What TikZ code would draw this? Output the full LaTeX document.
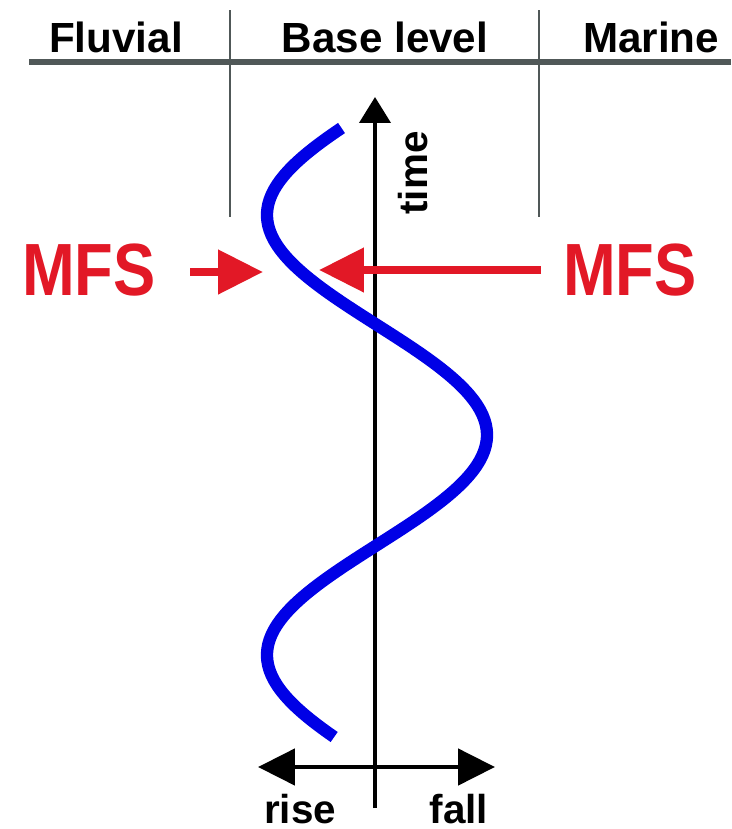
\documentclass[tikz,border=0pt]{standalone}
\usepackage{fontspec}
\setmainfont{Liberation Sans}
\usetikzlibrary{arrows.meta}
\definecolor{mfsred}{RGB}{226,24,38}
\definecolor{curveblue}{RGB}{0,0,230}
\definecolor{rulegray}{RGB}{80,88,88}
\tikzstyle{header} = [anchor=base, inner sep=0pt, font=\bfseries\fontsize{24}{28}\selectfont]
\tikzstyle{axislabel} = [inner sep=0pt, font=\bfseries\fontsize{23}{28}\selectfont]
\tikzstyle{mfs} = [anchor=base, inner sep=0pt, text=mfsred, yscale=1.17, font=\bfseries\fontsize{36}{40}\selectfont]
\tikzstyle{hrule} = [line width=3pt, draw=rulegray]
\tikzstyle{divider} = [line width=1.5pt, draw=rulegray]
\tikzstyle{timeaxis} = [line width=2.3pt, -{Triangle[length=0.52cm, width=0.62cm]}]
\tikzstyle{rangearrow} = [line width=2.8pt, {Triangle[length=0.74cm, width=0.72cm]}-{Triangle[length=0.74cm, width=0.72cm]}]
\tikzstyle{mfsarrow} = [line width=4.5pt, draw=mfsred, fill=mfsred, -{Triangle[length=0.9cm, width=0.86cm]}]
\tikzstyle{sealevel} = [line width=7pt, draw=curveblue]

\begin{document}
\begin{tikzpicture}[x=0.02cm, y=-0.02cm]
\useasboundingbox (0,0) rectangle (731,829);

\node [header] (fluvial) at (116,52) {Fluvial};
\node [header] (baselevel) at (385,52) {Base level};
\node [header] (marine) at (651,52) {Marine};

\coordinate (rulel) at (29,62);
\coordinate (ruler) at (731,62);
\coordinate (div1t) at (230,10);
\coordinate (div1b) at (230,217);
\coordinate (div2t) at (539,10);
\coordinate (div2b) at (539,217);

\draw [hrule] (rulel) -- (ruler);
\draw [divider] (div1t) -- (div1b);
\draw [divider] (div2t) -- (div2b);

\coordinate (axisbot) at (375,808);
\coordinate (axistop) at (375,97);
\coordinate (riseend) at (258,767);
\coordinate (fallend) at (495,767);

\draw [timeaxis] (axisbot) -- (axistop);
\draw [rangearrow] (riseend) -- (fallend);

\node [axislabel, rotate=90] (time) at (413,173) {time};
\node [axislabel, anchor=base] (rise) at (300,823) {rise};
\node [axislabel, anchor=base] (fall) at (459,823) {fall};

\draw [sealevel] plot [variable=\t, domain=128:737, samples=120, smooth] ({377-110*cos(0.81818*(\t-215))}, \t);

\node [mfs] (mfsleft) at (89,295) {MFS};
\node [mfs] (mfsright) at (630,295) {MFS};

\coordinate (mfslstart) at (190,272);
\coordinate (mfsltip) at (263,272);
\coordinate (mfsrstart) at (541,270);
\coordinate (mfsrtip) at (319,270);

\draw [mfsarrow] (mfslstart) -- (mfsltip);
\draw [mfsarrow] (mfsrstart) -- (mfsrtip);

\end{tikzpicture}
\end{document}
